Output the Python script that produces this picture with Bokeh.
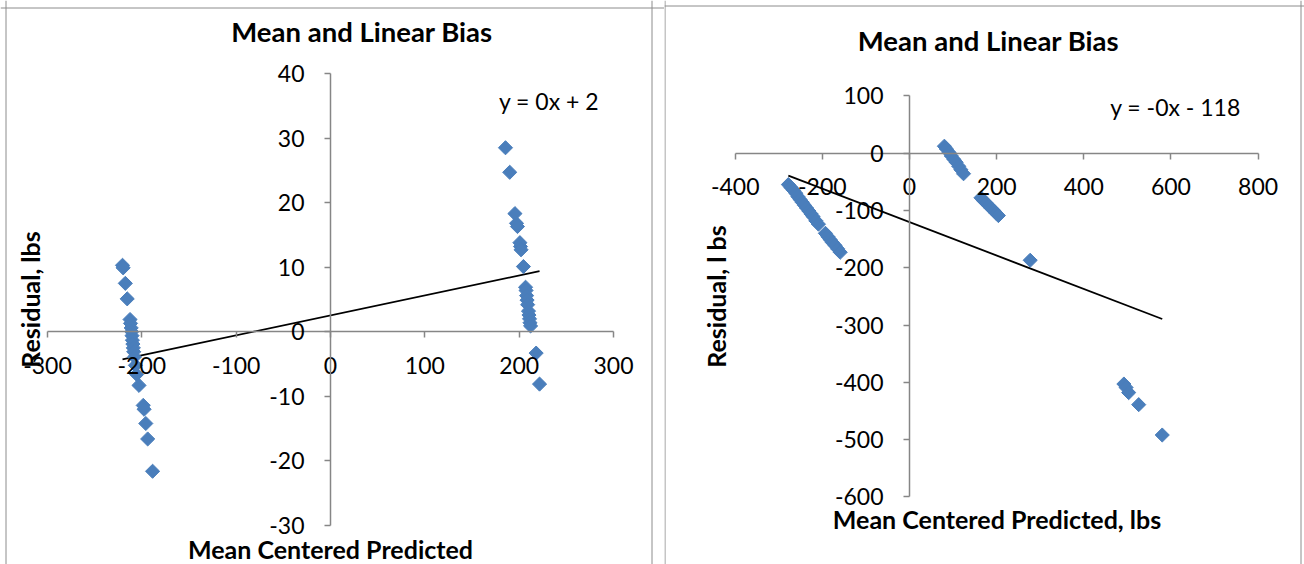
import numpy as np
from bokeh.plotting import figure
from bokeh.models import LinearAxis, FixedTicker, Span, Label
from bokeh.layouts import row
from bokeh.embed import file_html
from bokeh.resources import INLINE

# ---------------- data: left chart ----------------
left_x = [-220.5, -219.8, -217.5, -215.5, -212.5, -212.0, -211.3, -210.8, -210.4, -210.0,
          -209.5, -209.0, -208.6, -207.8, -206.8, -205.5, -203.0, -198.5, -197.6, -195.8,
          -193.8, -188.6,
          185.5, 190.0, 195.5, 197.2, 198.2, 200.8, 201.4, 202.0, 204.5, 206.8,
          207.3, 207.9, 208.4, 209.0, 209.9, 210.4, 211.0, 211.5, 212.1, 218.0, 221.6]
left_y = [10.3, 9.9, 7.5, 5.1, 1.9, 1.3, 0.6, 0.0, -0.6, -1.3,
          -1.9, -2.5, -3.1, -3.9, -5.2, -6.6, -8.3, -11.4, -12.0, -14.2,
          -16.6, -21.6,
          28.5, 24.7, 18.3, 16.8, 16.3, 13.8, 13.2, 12.7, 10.1, 6.9,
          6.4, 5.6, 4.9, 4.2, 3.2, 2.6, 2.0, 1.4, 0.9, -3.3, -8.1]
left_xticks = [-300, -200, -100, 0, 100, 200, 300]
left_yticks = [-30, -20, -10, 0, 10, 20, 30, 40]
left_trend_slope = 0.0309
left_trend_intercept = 2.54
left_title = "Mean and Linear Bias"
left_eq = "y = 0x + 2"
left_xlabel = "Mean Centered Predicted"
left_ylabel = "Residual, lbs"

# ---------------- data: right chart ----------------
right_x = [-278, -272, -266, -261, -256, -251, -246, -241, -236, -231, -226, -221, -215, -209,
           -193, -187, -182, -177, -171, -165, -159,
           80, 85, 91, 96, 102, 107, 113, 118, 124,
           164, 170, 176, 182, 187, 193, 199, 204,
           277, 492, 497, 503, 526, 580]
right_y = [-55, -60, -65, -70, -76, -81, -86, -91, -96, -101, -106, -111, -118, -124,
           -140, -146, -151, -156, -161, -167, -173,
           12, 7, 1, -5, -11, -16, -23, -29, -36,
           -78, -83, -87, -92, -96, -100, -105, -109,
           -187, -403, -409, -418, -439, -492]
right_xticks = [-400, -200, 0, 200, 400, 600, 800]
right_yticks = [-600, -500, -400, -300, -200, -100, 0, 100]
right_trend_slope = -0.2916
right_trend_intercept = -120.4
right_title = "Mean and Linear Bias"
right_eq = "y = -0x - 118"
right_xlabel = "Mean Centered Predicted, lbs"
right_ylabel = "Residual, l bs"

FONT = "Lato"
MARK = "#4A7EBB"
AXIS = "#868686"
H = 564


def chart(width, xs, ys, xticks, yticks, slope, intercept,
          px_xmin, px_xmax, py_ymax, py_ymin, box,
          title, title_pos, eq, eq_pos, xlabel, xlabel_pos, ylabel, ylabel_pos):
    # pixel mapping of the plot area inside the canvas
    a = (px_xmax - px_xmin) / (xticks[-1] - xticks[0])
    x0 = xticks[0] - px_xmin / a
    b = (py_ymin - py_ymax) / (yticks[-1] - yticks[0])
    y1 = yticks[-1] + py_ymax / b
    p = figure(width=width, height=H, x_range=(x0, x0 + width / a),
               y_range=(y1 - H / b, y1), x_axis_type=None, y_axis_type=None,
               toolbar_location=None, output_backend="svg", title=None,
               min_border=0, min_border_left=0, min_border_right=0,
               min_border_top=0, min_border_bottom=0)
    p.outline_line_color = None
    p.xgrid.visible = False
    p.ygrid.visible = False

    # chart-area border (left, right, top)
    bl, br, bt = box
    for loc, dim in [(x0 + (bl + 0.5) / a, "height"), (x0 + (br + 0.5) / a, "height"),
                     (y1 - (bt + 0.5) / b, "width")]:
        p.add_layout(Span(location=loc, dimension=dim, line_color="#8c8c8c", line_width=1))

    yax = LinearAxis(fixed_location=0, ticker=FixedTicker(ticks=yticks),
                     bounds=(yticks[0], yticks[-1]))
    xax = LinearAxis(fixed_location=0, ticker=FixedTicker(ticks=xticks),
                     bounds=(xticks[0], xticks[-1]))
    for ax, ticks in ((xax, xticks), (yax, yticks)):
        ax.axis_line_color = AXIS
        ax.axis_line_width = 1.5
        ax.major_tick_line_color = AXIS
        ax.major_tick_line_width = 1.5
        ax.major_tick_in = 0
        ax.major_tick_out = 6
        ax.minor_tick_line_color = None
        ax.major_label_text_font = FONT
        ax.major_label_text_font_size = "23px"
        ax.major_label_text_color = "black"
        ax.major_label_overrides = {t: str(t) for t in ticks}
    yax.major_label_standoff = 20
    xax.major_label_standoff = 19
    p.add_layout(yax, "left")
    p.add_layout(xax, "below")

    lo, hi = min(xs), max(xs)
    p.line([lo, hi], [slope * lo + intercept, slope * hi + intercept],
           line_color="black", line_width=1.8)
    p.scatter(xs, ys, marker="square", angle=np.pi / 4, size=10,
              fill_color=MARK, line_color=MARK)

    def lab(text, pos, bold, size, angle=0.0):
        p.add_layout(Label(x=pos[0], y=H - pos[1], x_units="screen", y_units="screen",
                           text=text, text_font=FONT, text_font_size=size,
                           text_font_style="bold" if bold else "normal",
                           text_align="center", text_baseline="middle",
                           text_color="black", angle=angle))

    lab(title, title_pos, True, "27.5px")
    lab(eq, eq_pos, False, "23px")
    lab(xlabel, xlabel_pos, True, "25px")
    lab(ylabel, ylabel_pos, True, "25px", angle=np.pi / 2)
    return p


p1 = chart(664, left_x, left_y, left_xticks, left_yticks,
           left_trend_slope, left_trend_intercept,
           47, 613, 73, 525, (5, 651, 7),
           left_title, (361.5, 31), left_eq, (548.5, 100),
           left_xlabel, (330, 548.6), left_ylabel, (29, 299))
p2 = chart(640, right_x, right_y, right_xticks, right_yticks,
           right_trend_slope, right_trend_intercept,
           70.7, 593.6, 95.3, 496.4, (0, 636, 5),
           right_title, (324, 39.6), right_eq, (511, 106),
           right_xlabel, (332.5, 518), right_ylabel, (51, 296))

layout = row(p1, p2)
open("out.html", "w").write(file_html(layout, INLINE))
